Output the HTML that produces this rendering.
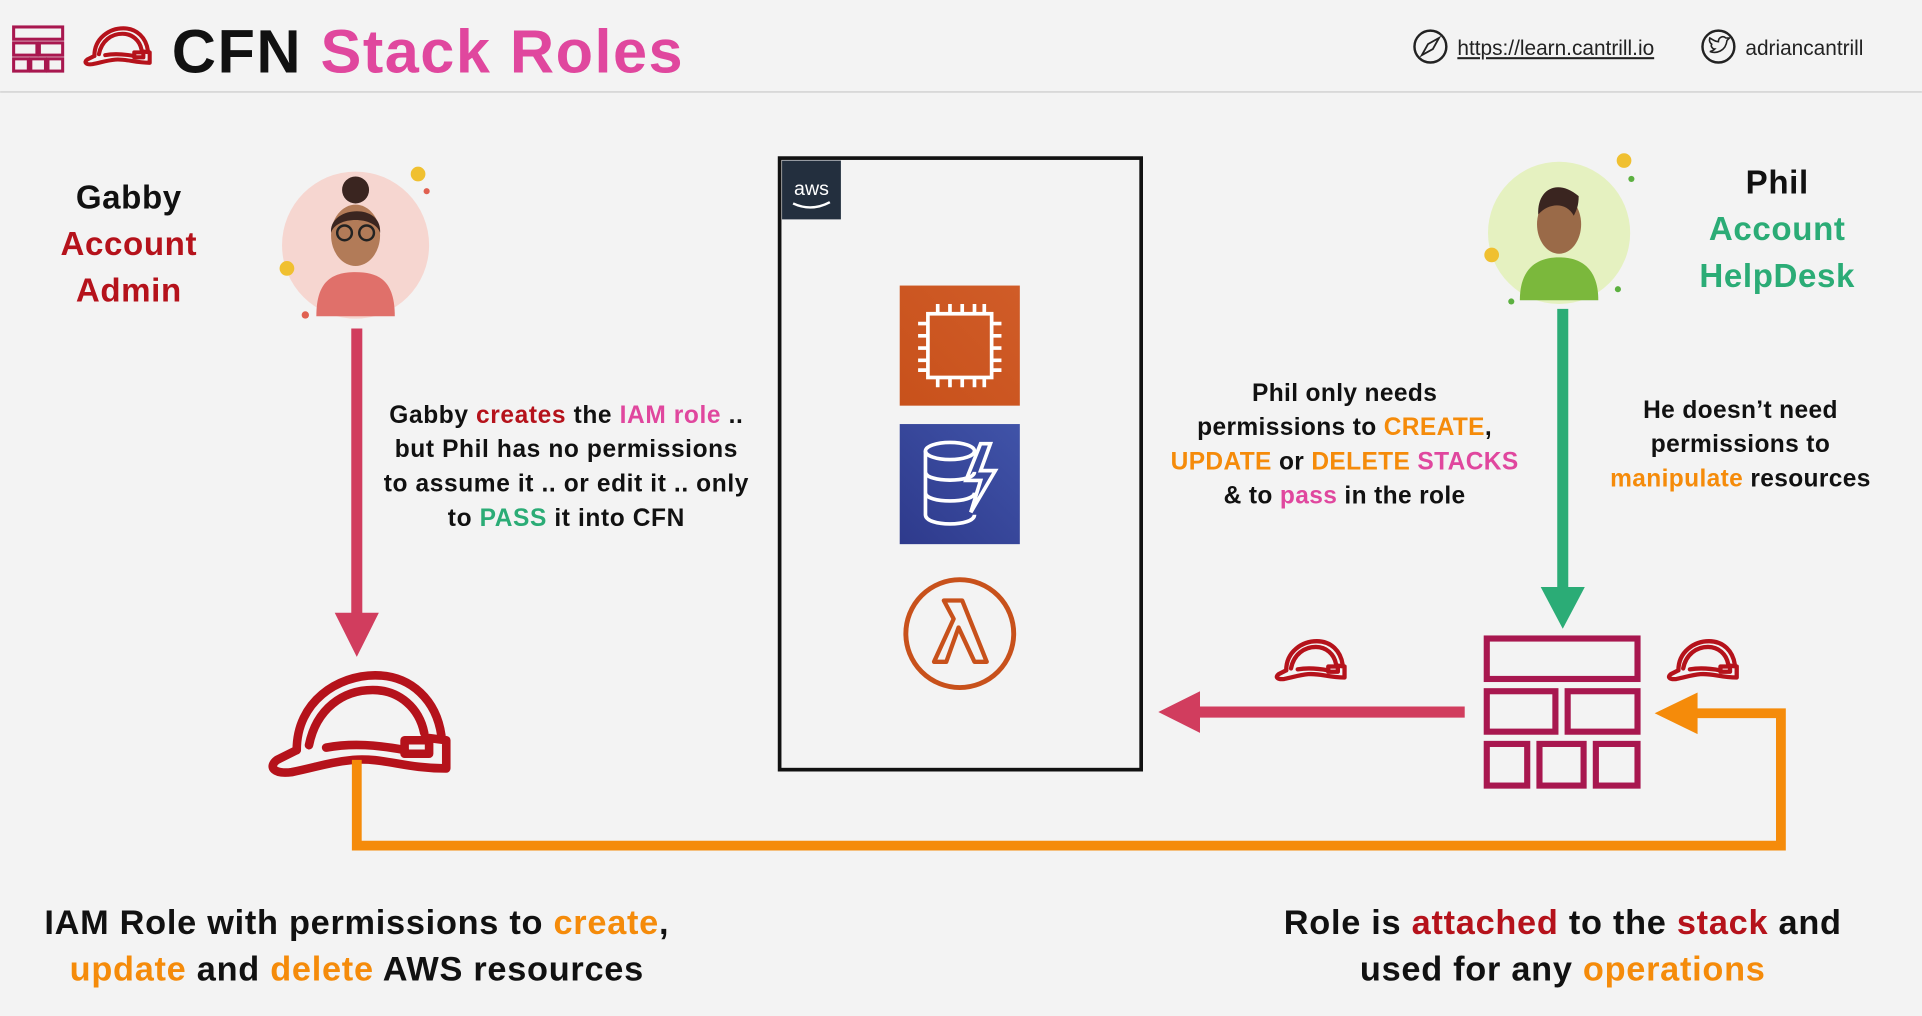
<!DOCTYPE html>
<html><head><meta charset="utf-8"><style>
html,body{margin:0;padding:0;background:#f3f3f3;}
svg{display:block;}
text{font-family:"Liberation Sans",sans-serif;font-weight:bold;}
</style></head><body>
<svg width="1922" height="1016" viewBox="0 0 1568 829" xmlns="http://www.w3.org/2000/svg">
<defs>
<g id="hat" fill="none" stroke-linejoin="round" stroke-linecap="round">
<path d="M24,64 C24,24 58,3 88,3 C118,3 138,24 142,52"/>
<path d="M34,60 C40,30 62,15 86,15 C108,15 124,30 128,50"/>
<path d="M48,62 C70,58 90,60 112,64"/>
<path d="M24,64 L8,72 C0,78 6,84 20,82 C40,78 50,74 70,72 C95,70 112,79 146,79 L146,56 L130,54"/>
<rect x="112" y="56" width="20" height="11"/>
</g>
<linearGradient id="ec2" x1="0" y1="1" x2="1" y2="0"><stop offset="0" stop-color="#c8511b"/><stop offset="1" stop-color="#d05c28"/></linearGradient>
<linearGradient id="ddb" x1="0" y1="1" x2="1" y2="0"><stop offset="0" stop-color="#2e3a8c"/><stop offset="1" stop-color="#4053a8"/></linearGradient>
</defs>
<rect width="1568" height="829" fill="#f3f3f3"/>
<line x1="0" y1="75" x2="1568" y2="75" stroke="#d8d8d8" stroke-width="1.5"/>
<g fill="none" stroke="#a8174f" stroke-width="2.5">
<rect x="11" y="22" width="40" height="10"/>
<rect x="11" y="35" width="19" height="10"/><rect x="32" y="35" width="19" height="10"/>
<rect x="11" y="48" width="12" height="10"/><rect x="25" y="48" width="12" height="10"/><rect x="39" y="48" width="12" height="10"/>
</g>
<use href="#hat" transform="translate(68,22) scale(0.37)" stroke="#b5121b" stroke-width="9"/>
<text x="140" y="59" font-size="50" fill="#111" letter-spacing="1.2">CFN <tspan fill="#e0479e">Stack Roles</tspan></text>
<circle cx="1167" cy="38" r="13" fill="none" stroke="#222" stroke-width="2"/>
<path d="M1160,45 L1165,36 L1174,31 L1169,40 Z" fill="none" stroke="#222" stroke-width="1.5"/>
<text x="1189" y="45" font-size="17" fill="#222" style="font-weight:normal" text-decoration="underline">https://learn.cantrill.io</text>
<circle cx="1402" cy="38" r="13" fill="none" stroke="#222" stroke-width="2"/>
<path d="M1395,42 C1400,44 1408,42 1409,33 L1411,31 L1408,31 C1406,29 1402,30 1402,34 C1399,34 1397,32 1395,31 C1394,34 1396,36 1397,36 C1395,37 1397,40 1399,40 C1398,41 1396,42 1395,42 Z" fill="none" stroke="#222" stroke-width="1.3"/>
<text x="1424" y="45" font-size="17" fill="#222" style="font-weight:normal">adriancantrill</text>

<g font-size="27" text-anchor="middle" letter-spacing="0.5">
<text x="105" y="170" fill="#111">Gabby</text>
<text x="105" y="208" fill="#b5121b">Account</text>
<text x="105" y="246" fill="#b5121b">Admin</text>
</g>
<circle cx="290" cy="200" r="60" fill="#f6d6d0"/>
<circle cx="341" cy="142" r="6" fill="#f0c030"/><circle cx="234" cy="219" r="6" fill="#f0c030"/><circle cx="249" cy="257" r="3" fill="#e06050"/><circle cx="348" cy="156" r="2.5" fill="#e06050"/>
<path d="M258,258 C258,230 270,222 290,222 C310,222 322,230 322,258 Z" fill="#e0706a"/>
<ellipse cx="290" cy="192" rx="20" ry="25" fill="#b27b58"/>
<circle cx="290" cy="155" r="11" fill="#3a2520"/>
<path d="M270,190 C268,168 312,165 310,190 C306,176 274,176 270,190 Z" fill="#3a2520"/>
<circle cx="281" cy="190" r="6" fill="none" stroke="#222" stroke-width="2"/><circle cx="299" cy="190" r="6" fill="none" stroke="#222" stroke-width="2"/>

<line x1="291" y1="268" x2="291" y2="503" stroke="#d13d5e" stroke-width="9"/>
<polygon points="273,500 309,500 291,536" fill="#d13d5e"/>
<g font-size="20" text-anchor="middle" fill="#111" letter-spacing="0.5">
<text x="462" y="345">Gabby <tspan fill="#b5121b">creates</tspan> the <tspan fill="#e0479e">IAM role</tspan> ..</text>
<text x="462" y="373">but Phil has no permissions</text>
<text x="462" y="401">to assume it .. or edit it .. only</text>
<text x="462" y="429">to <tspan fill="#2bac76">PASS</tspan> it into CFN</text>
</g>
<use href="#hat" transform="translate(218,548)" stroke="#b5121b" stroke-width="7"/>

<polyline points="291,620 291,690 1453,690 1453,582 1380,582" fill="none" stroke="#f58b0a" stroke-width="8"/>
<polygon points="1350,582 1385,565 1385,599" fill="#f58b0a"/>

<rect x="636" y="129" width="295" height="499" fill="none" stroke="#111" stroke-width="3"/>
<rect x="638" y="131" width="48" height="48" fill="#232f3e"/>
<text x="662" y="159" font-size="16" fill="#fff" text-anchor="middle" style="font-weight:normal">aws</text>
<path d="M647,166 Q662,173 677,165" fill="none" stroke="#fff" stroke-width="2"/>
<rect x="734" y="233" width="98" height="98" fill="url(#ec2)"/>
<g fill="none" stroke="#fff" stroke-width="3">
<rect x="757" y="256" width="52" height="52"/>
<path d="M765,256 v-8 M775,256 v-8 M785,256 v-8 M795,256 v-8 M803,256 v-8 M765,308 v8 M775,308 v8 M785,308 v8 M795,308 v8 M803,308 v8 M757,264 h-8 M757,274 h-8 M757,284 h-8 M757,294 h-8 M757,302 h-8 M809,264 h8 M809,274 h8 M809,284 h8 M809,294 h8 M809,302 h8"/>
</g>
<rect x="734" y="346" width="98" height="98" fill="url(#ddb)"/>
<g fill="none" stroke="#fff" stroke-width="3">
<ellipse cx="775" cy="368" rx="20" ry="7"/>
<path d="M755,368 V420 C755,430 795,430 795,420 M755,385 C755,394 795,394 795,385 M755,402 C755,411 795,411 795,402"/>
<path d="M800,362 L788,392 H800 L792,418 L812,384 H800 L808,362 Z"/>
</g>
<circle cx="783" cy="517" r="44" fill="none" stroke="#c8511b" stroke-width="4"/>
<path d="M762,540 L778,505 L770,490 H785 L805,540 H795 L782,512 L772,540 Z" fill="none" stroke="#c8511b" stroke-width="3.5" stroke-linejoin="round"/>

<g font-size="27" text-anchor="middle" letter-spacing="0.5">
<text x="1450" y="158" fill="#111">Phil</text>
<text x="1450" y="196" fill="#2bac76">Account</text>
<text x="1450" y="234" fill="#2bac76">HelpDesk</text>
</g>
<circle cx="1272" cy="190" r="58" fill="#e5f1c0"/>
<circle cx="1325" cy="131" r="6" fill="#f0c030"/><circle cx="1217" cy="208" r="6" fill="#f0c030"/><circle cx="1331" cy="146" r="2.5" fill="#5cb040"/><circle cx="1233" cy="246" r="2.5" fill="#5cb040"/><circle cx="1320" cy="236" r="2.5" fill="#5cb040"/>
<path d="M1240,245 C1240,218 1255,210 1272,210 C1289,210 1304,218 1304,245 Z" fill="#7bb83c"/>
<ellipse cx="1272" cy="183" rx="18" ry="24" fill="#9a6a48"/>
<path d="M1255,175 C1254,155 1270,145 1288,160 C1288,168 1286,172 1284,176 C1278,165 1264,165 1255,175 Z" fill="#3a2520"/>
<line x1="1275" y1="252" x2="1275" y2="482" stroke="#2bac76" stroke-width="9"/>
<polygon points="1257,479 1293,479 1275,513" fill="#2bac76"/>

<g font-size="20" text-anchor="middle" fill="#111" letter-spacing="0.3">
<text x="1097" y="327">Phil only needs</text>
<text x="1097" y="355">permissions to <tspan fill="#f58b0a">CREATE</tspan>,</text>
<text x="1097" y="383"><tspan fill="#f58b0a">UPDATE</tspan> or <tspan fill="#f58b0a">DELETE</tspan> <tspan fill="#e0479e">STACKS</tspan></text>
<text x="1097" y="411">&amp; to <tspan fill="#e0479e">pass</tspan> in the role</text>
<text x="1420" y="341">He doesn’t need</text>
<text x="1420" y="369">permissions to</text>
<text x="1420" y="397"><tspan fill="#f58b0a">manipulate</tspan> resources</text>
</g>

<g fill="none" stroke="#a8174f" stroke-width="5">
<rect x="1213" y="521" width="123" height="33"/>
<rect x="1213" y="564" width="56" height="33"/><rect x="1279" y="564" width="57" height="33"/>
<rect x="1213" y="607" width="33" height="34"/><rect x="1256" y="607" width="36" height="34"/><rect x="1302" y="607" width="34" height="34"/>
</g>
<line x1="1195" y1="581" x2="975" y2="581" stroke="#d13d5e" stroke-width="9"/>
<polygon points="945,581 979,564 979,598" fill="#d13d5e"/>
<use href="#hat" transform="translate(1040,522) scale(0.39)" stroke="#b5121b" stroke-width="9"/>
<use href="#hat" transform="translate(1360,522) scale(0.39)" stroke="#b5121b" stroke-width="9"/>

<g font-size="28" text-anchor="middle" fill="#111" letter-spacing="0.6">
<text x="291" y="762">IAM Role with permissions to <tspan fill="#f58b0a">create</tspan>,</text>
<text x="291" y="800"><tspan fill="#f58b0a">update</tspan> and <tspan fill="#f58b0a">delete</tspan> AWS resources</text>
<text x="1275" y="762">Role is <tspan fill="#b5121b">attached</tspan> to the <tspan fill="#b5121b">stack</tspan> and</text>
<text x="1275" y="800">used for any <tspan fill="#f58b0a">operations</tspan></text>
</g>
</svg>
</body></html>
